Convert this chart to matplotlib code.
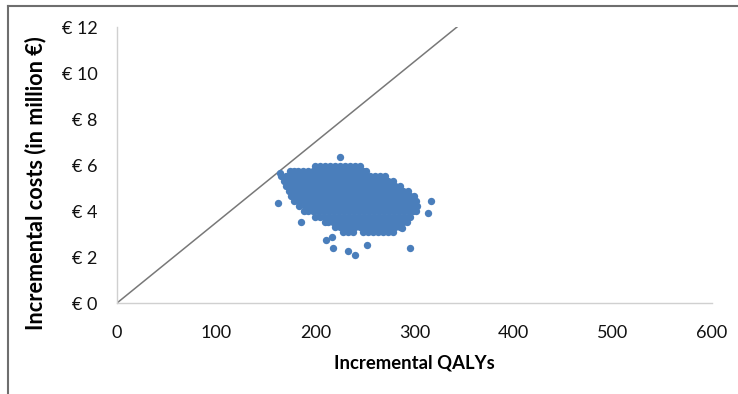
"""
Cost-effectiveness plane: incremental QALYs vs incremental costs (PSA cloud).
Writes out.png (738x394).
"""

import matplotlib
matplotlib.use("Agg")
import matplotlib.pyplot as plt
from matplotlib.lines import Line2D

BLUE = "#4a7ebb"
LINE = "#787878"
SPINE = "#d0d0d0"
FRAME = "#6e6e6e"

plt.rcParams["font.family"] = ["Lato", "DejaVu Sans"]

# ---- data ------------------------------------------------------------------
# dense core of the simulation cloud, row by row: (cost in million €, QALYs)
cloud_rows = [
    (5.96, [200, 205, 210, 215, 220, 225, 230, 235, 240, 245]),
    (5.74, [174, 178, 183, 188, 193, 198, 203, 208, 213, 218, 223, 228, 233,
            238, 243, 248, 251]),
    (5.52, [165, 170, 175, 180, 185, 190, 195, 200, 205, 210, 215, 220, 225,
            230, 235, 240, 245, 250, 255, 260, 265, 270]),
    (5.30, [168, 173, 178, 183, 188, 193, 198, 203, 208, 213, 218, 223, 228,
            233, 238, 243, 248, 253, 258, 263, 268, 273, 278]),
    (5.08, [170, 175, 180, 185, 190, 195, 200, 205, 210, 215, 220, 225, 230,
            235, 240, 245, 250, 255, 260, 265, 270, 275, 280, 285]),
    (4.86, [173, 178, 183, 188, 193, 198, 203, 208, 213, 218, 223, 228, 233,
            238, 243, 248, 253, 258, 263, 268, 273, 278, 283, 288, 293]),
    (4.64, [175, 180, 185, 190, 195, 200, 205, 210, 215, 220, 225, 230, 235,
            240, 245, 250, 255, 260, 265, 270, 275, 280, 285, 290, 295, 299]),
    (4.42, [178, 183, 188, 193, 198, 203, 208, 213, 218, 223, 228, 233, 238,
            243, 248, 253, 258, 263, 268, 273, 278, 283, 288, 293, 298, 302]),
    (4.20, [184, 190, 195, 200, 205, 210, 215, 220, 225, 230, 235, 240, 245,
            250, 255, 260, 265, 270, 275, 280, 285, 290, 295, 300, 303]),
    (3.98, [189, 193, 198, 203, 208, 213, 218, 223, 228, 233, 238, 243, 248,
            253, 258, 263, 268, 273, 278, 283, 288, 293, 298, 302]),
    (3.76, [200, 205, 210, 215, 220, 225, 230, 235, 240, 245, 250, 255, 260,
            265, 270, 275, 280, 285, 290, 295]),
    (3.54, [210, 213, 218, 223, 228, 233, 238, 243, 248, 253, 258, 263, 268,
            273, 278, 283, 288, 292]),
    (3.32, [220, 225, 230, 235, 240, 245, 250, 255, 260, 265, 270, 275, 280,
            285]),
    (3.10, [228, 233, 238, 248, 253, 258, 263, 268, 273, 278]),
]

# scattered simulations around the core
outlier_qalys = [164, 225, 162, 186, 217, 211, 218, 233, 240, 252, 295, 317,
                 314, 287]
outlier_costs = [5.66, 6.35, 4.35, 3.54, 2.88, 2.74, 2.38, 2.27, 2.09, 2.52,
                 2.40, 4.45, 3.93, 3.25]

wtp = 0.035                      # million € per QALY (threshold line)
x_ticks = [0, 100, 200, 300, 400, 500, 600]
y_ticks = [0, 2, 4, 6, 8, 10, 12]
y_labels = ["€ 0", "€ 2", "€ 4", "€ 6", "€ 8", "€ 10", "€ 12"]

qalys, costs = [], []
for c, xs in cloud_rows:
    qalys += xs
    costs += [c] * len(xs)
qalys += outlier_qalys
costs += outlier_costs

# ---- figure ----------------------------------------------------------------
fig = plt.figure(figsize=(7.38, 3.94), dpi=100)
fig.patch.set_facecolor("white")
ax = fig.add_axes([117 / 738, 91 / 394, 595 / 738, 276 / 394])

ax.plot([0, 12 / wtp], [0, 12], color=LINE, lw=1.1, zorder=1)
ax.scatter(qalys, costs, s=28, color=BLUE, linewidths=0, zorder=2)

ax.set_xlim(0, 600)
ax.set_ylim(0, 12)
ax.set_xticks(x_ticks)
ax.set_yticks(y_ticks)
ax.set_yticklabels(y_labels)
ax.tick_params(length=0, labelsize=13, colors="#111111")
ax.tick_params(axis="x", pad=16)
ax.tick_params(axis="y", pad=14)

for s in ("top", "right"):
    ax.spines[s].set_visible(False)
for s in ("left", "bottom"):
    ax.spines[s].set_color(SPINE)
    ax.spines[s].set_linewidth(1.0)

ax.set_xlabel("Incremental QALYs", fontsize=13.3, weight="bold", va="center")
ax.xaxis.set_label_coords(0.5, -60 / 276)
ax.set_ylabel("Incremental costs (in million €)", fontsize=15.6, weight="bold",
              va="center")
ax.yaxis.set_label_coords(-81 / 595, 120 / 276)

# chart frame (only top and left edges are visible in the crop)
fig.add_artist(Line2D([8 / 738, 1], [1 - 5.5 / 394] * 2, color=FRAME, lw=1.5,
                      transform=fig.transFigure))
fig.add_artist(Line2D([8 / 738] * 2, [0, 1 - 5.5 / 394], color=FRAME, lw=1.5,
                      transform=fig.transFigure))

fig.savefig("out.png", dpi=100, facecolor="white")
